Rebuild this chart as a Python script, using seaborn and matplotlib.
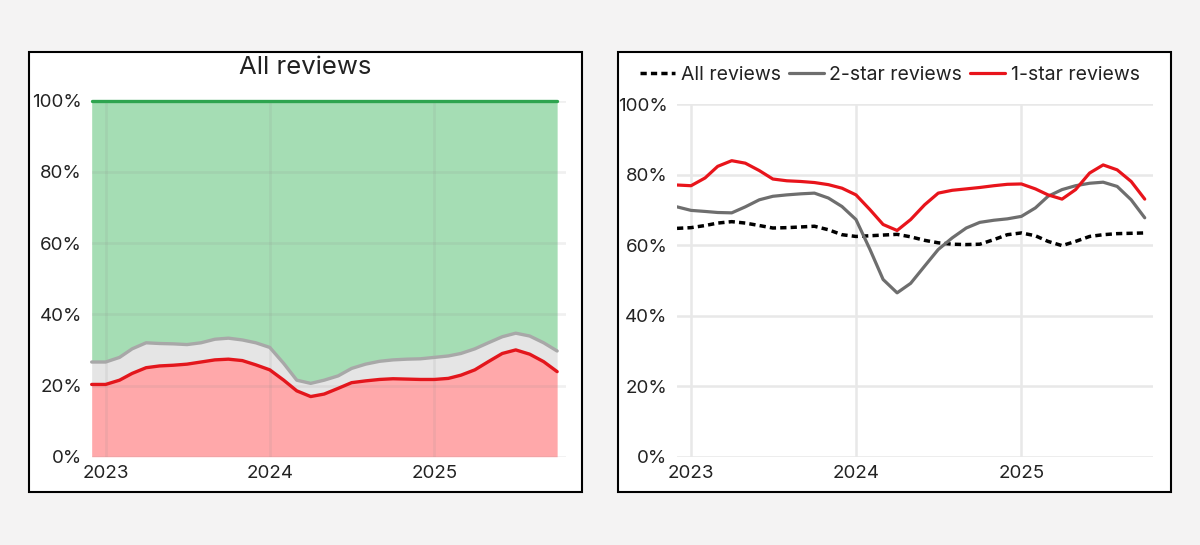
import pandas as pd
import numpy as np
import matplotlib.pyplot as plt
import matplotlib.dates as mdates
import seaborn as sns
from matplotlib.patches import Rectangle
from matplotlib.ticker import FuncFormatter, MultipleLocator

# monthly points, Dec 2022 .. Oct 2025
dates = pd.date_range("2022-12-01", periods=35, freq="MS")

# left panel: share of all reviews (%)
share_1star = [20.3, 20.3, 21.5, 23.4, 25.0, 25.5, 25.7, 26.0, 26.6, 27.2, 27.4, 27.0,
               25.8, 24.4, 21.5, 18.5, 16.9, 17.6, 19.2, 20.8, 21.3, 21.7, 21.9, 21.8,
               21.7, 21.7, 22.0, 22.9, 24.4, 26.7, 29.0, 30.0, 28.8, 26.7, 23.9]
share_1or2star = [26.6, 26.6, 27.9, 30.3, 32.0, 31.8, 31.7, 31.5, 32.0, 33.0, 33.3, 32.8,
                  32.0, 30.7, 26.2, 21.5, 20.6, 21.5, 22.7, 24.8, 26.0, 26.8, 27.2, 27.4,
                  27.5, 27.9, 28.3, 29.0, 30.3, 32.0, 33.7, 34.7, 33.9, 32.0, 29.7]
share_total = [100.0] * 35

# right panel (%)
all_reviews = [64.8, 65.0, 65.6, 66.3, 66.7, 66.3, 65.6, 64.9, 65.0, 65.2, 65.4, 64.4,
               63.0, 62.5, 62.7, 62.9, 63.1, 62.4, 61.4, 60.7, 60.3, 60.2, 60.3, 61.6,
               63.0, 63.5, 62.7, 61.1, 59.9, 61.1, 62.5, 63.0, 63.3, 63.4, 63.5]
two_star = [70.9, 69.9, 69.6, 69.3, 69.2, 70.9, 72.9, 73.9, 74.3, 74.6, 74.8, 73.4,
            71.0, 67.3, 58.8, 50.3, 46.5, 49.2, 54.1, 58.8, 62.1, 64.9, 66.5, 67.1,
            67.5, 68.2, 70.6, 73.9, 75.8, 76.9, 77.6, 77.9, 76.7, 72.9, 67.8]
one_star = [77.1, 76.9, 79.1, 82.4, 84.0, 83.3, 81.2, 78.8, 78.3, 78.1, 77.8, 77.2,
            76.2, 74.3, 70.1, 65.9, 64.2, 67.3, 71.5, 74.8, 75.6, 76.0, 76.4, 76.9,
            77.3, 77.4, 76.0, 74.3, 73.1, 75.8, 80.5, 82.8, 81.4, 78.1, 73.1]

sns.set_theme(style="white")
plt.rcParams['font.family'] = ['Inter', 'DejaVu Sans']
txt = '#222222'

fig = plt.figure(figsize=(12, 5.45), dpi=100, facecolor='#f4f3f3')
for x0 in (0.0244, 0.5148):
    fig.patches.append(Rectangle((x0, 0.0972), 0.4608, 0.8068, transform=fig.transFigure,
                                 facecolor='white', edgecolor='black', lw=1.5, zorder=-5))

ax1 = fig.add_axes([0.0764, 0.162, 0.395, 0.6532])
ax2 = fig.add_axes([0.5642, 0.162, 0.3969, 0.6466])

# left: stacked shares
ax1.fill_between(dates, 0, share_1star, color='#ffa8aa', lw=0, zorder=1)
ax1.fill_between(dates, share_1star, share_1or2star, color='#e5e5e5', lw=0, zorder=1)
ax1.fill_between(dates, share_1or2star, share_total, color='#a5ddb4', lw=0, zorder=1)
sns.lineplot(x=dates, y=share_1or2star, color='#a8a8a8', lw=2.4, ax=ax1, zorder=3)
sns.lineplot(x=dates, y=share_1star, color='#e3161c', lw=2.4, ax=ax1, zorder=3)
sns.lineplot(x=dates, y=share_total, color='#2ea44f', lw=2.4, ax=ax1, zorder=3)
for ln in ax1.lines:
    ln.set_clip_on(False)
ax1.grid(True, color='#8a8a8a', alpha=0.12, lw=2)
ax1.set_axisbelow(False)
fig.text(305.5 / 1200, 1 - 68 / 545, "All reviews", fontsize=18.5, color=txt,
         ha='center', va='center')

# right: lines
sns.lineplot(x=dates, y=all_reviews, color='black', lw=2.5, ax=ax2,
             linestyle=(0, (1.8, 1.2)), label='All reviews')
sns.lineplot(x=dates, y=two_star, color='#6e6e6e', lw=2.3, ax=ax2, label='2-star reviews')
sns.lineplot(x=dates, y=one_star, color='#e8141b', lw=2.3, ax=ax2, label='1-star reviews')
ax2.grid(True, color='#e8e8e8', lw=1.8)
ax2.set_axisbelow(True)
ax2.legend(loc='center', bbox_to_anchor=(0.447, 1.083), ncol=3, frameon=False,
           fontsize=14, handlelength=1.8, handletextpad=0.3, columnspacing=0.4,
           labelcolor=txt)

for ax in (ax1, ax2):
    ax.set_facecolor('none')
    ax.set_ylim(0, 100)
    ax.set_xlim(dates[0], pd.Timestamp("2025-10-20"))
    ax.yaxis.set_major_locator(MultipleLocator(20))
    ax.yaxis.set_major_formatter(FuncFormatter(lambda v, p: f"{v:.0f}%"))
    ax.xaxis.set_major_locator(mdates.YearLocator())
    ax.xaxis.set_major_formatter(mdates.DateFormatter('%Y'))
    ax.tick_params(axis='y', length=0, pad=7, labelsize=13.5, labelcolor=txt)
    ax.tick_params(axis='x', length=0, pad=6, labelsize=13.5, labelcolor=txt)
    ax.set_xlabel('')
    ax.set_ylabel('')
    for s in ax.spines.values():
        s.set_visible(False)

fig.savefig('out.png', dpi=100, facecolor=fig.get_facecolor())
